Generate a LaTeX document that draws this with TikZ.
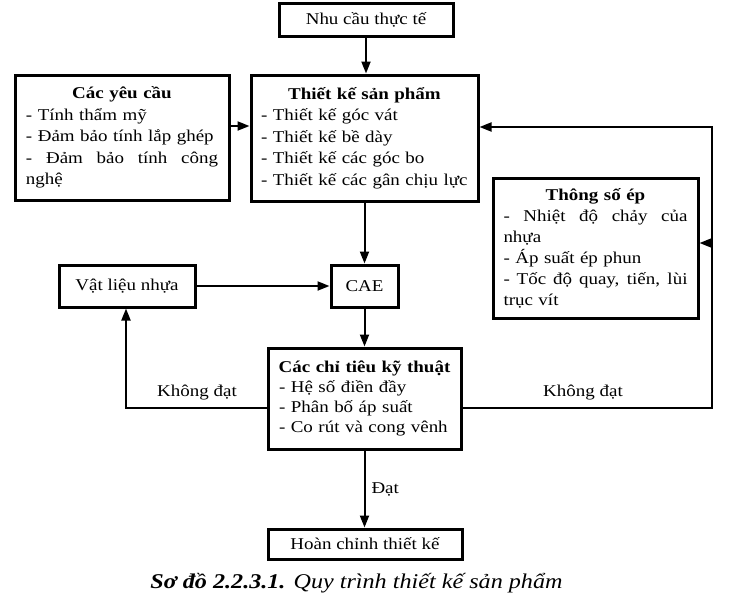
\documentclass[tikz,border=0pt]{standalone}
\usepackage{fontspec}
\setmainfont{Liberation Serif}[FakeStretch=1.15]
\usetikzlibrary{arrows.meta,calc}
\newcommand{\jline}[1]{\leavevmode\hbox to\linewidth{\spaceskip=0.3em plus 1fil\relax #1}}
\begin{document}
\begin{tikzpicture}[x=1pt,y=-1pt,
  box/.style={draw, line width=3pt, inner sep=0pt, align=left, font=\fontsize{16.5}{21.5}\selectfont},
  arr/.style={line width=2pt, line join=miter, -{Triangle[length=12pt,width=9pt]}},
  lbl/.style={font=\fontsize{16.5}{20}\selectfont, inner sep=0pt}]
\fill[white] (0,0) rectangle (735,611);
\useasboundingbox (0,0) rectangle (735,611);

\node[box, minimum width=174pt, minimum height=33pt] (need) at (366,19.5) {Nhu cầu thực tế};

\node[box, text width=192pt, minimum width=214pt, minimum height=125pt] (req) at (122,137.5)
 {\makebox[\linewidth]{\textbf{Các yêu cầu}}\\
  - Tính thẩm mỹ\\
  - Đảm bảo tính lắp ghép\\
  \jline{- Đảm bảo tính công}\\
  nghệ};

\node[box, text width=207pt, minimum width=227pt, minimum height=126pt] (design) at (364.5,138)
 {\makebox[\linewidth]{\textbf{Thiết kế sản phẩm}}\\
  - Thiết kế góc vát\\
  - Thiết kế bề dày\\
  - Thiết kế các góc bo\\
  - Thiết kế các gân chịu lực};

\node[box, text width=184pt, minimum width=205pt, minimum height=140pt, font=\fontsize{16.5}{21}\selectfont] (param) at (595.5,248)
 {\makebox[\linewidth]{\textbf{Thông số ép}}\\
  \jline{- Nhiệt độ chảy của}\\
  nhựa\\
  - Áp suất ép phun\\
  \jline{- Tốc độ quay, tiến, lùi}\\
  trục vít};

\node[box, minimum width=136pt, minimum height=42pt] (mat) at (127,286) {Vật liệu nhựa};
\node[box, minimum width=67pt, minimum height=42pt] (cae) at (364.5,286) {CAE};

\node[box, text width=171pt, minimum width=193pt, minimum height=101pt, font=\fontsize{16.5}{20}\selectfont] (spec) at (364.5,398.5)
 {\makebox[\linewidth]{\textbf{Các chỉ tiêu kỹ thuật}}\\
  - Hệ số điền đầy\\
  - Phân bố áp suất\\
  - Co rút và cong vênh};

\node[box, minimum width=194pt, minimum height=30pt] (done) at (365,544) {Hoàn chỉnh thiết kế};

\node[font=\fontsize{21}{25}\selectfont, inner sep=0pt] (cap) at (356.5,583)
 {\textbf{\textit{Sơ đồ 2.2.3.1.}} \textit{Quy trình thiết kế sản phẩm}};

\coordinate (yA) at (0,126);
\coordinate (yB) at (0,408);
\coordinate (yT) at (0,127);
\coordinate (yP) at (0,243);
\coordinate (xL) at (126,0);
\coordinate (xR) at (712,0);

\draw[arr] (need.south) -- (need.south |- design.north);
\draw[arr] (req.east |- yA) -- (design.west |- yA);
\draw[arr] (design.south) -- (cae.north);
\draw[arr] (mat.east) -- (cae.west);
\draw[arr] (cae.south) -- (spec.north);
\draw[arr] (spec.south) -- node[lbl, right, xshift=6pt] (ok) {Đạt} (spec.south |- done.north);

\draw[arr] (spec.west |- yB) -- (xL |- yB) -- (xL |- mat.south);
\node[lbl] (nd1) at (197,393) {Không đạt};

\draw[arr] (spec.east |- yB) -- (xR |- yB) -- (xR |- yT) -- (design.east |- yT);
\draw[arr] (xR |- yP) -- (param.east |- yP);
\node[lbl] (nd2) at (583,393) {Không đạt};
\end{tikzpicture}
\end{document}
